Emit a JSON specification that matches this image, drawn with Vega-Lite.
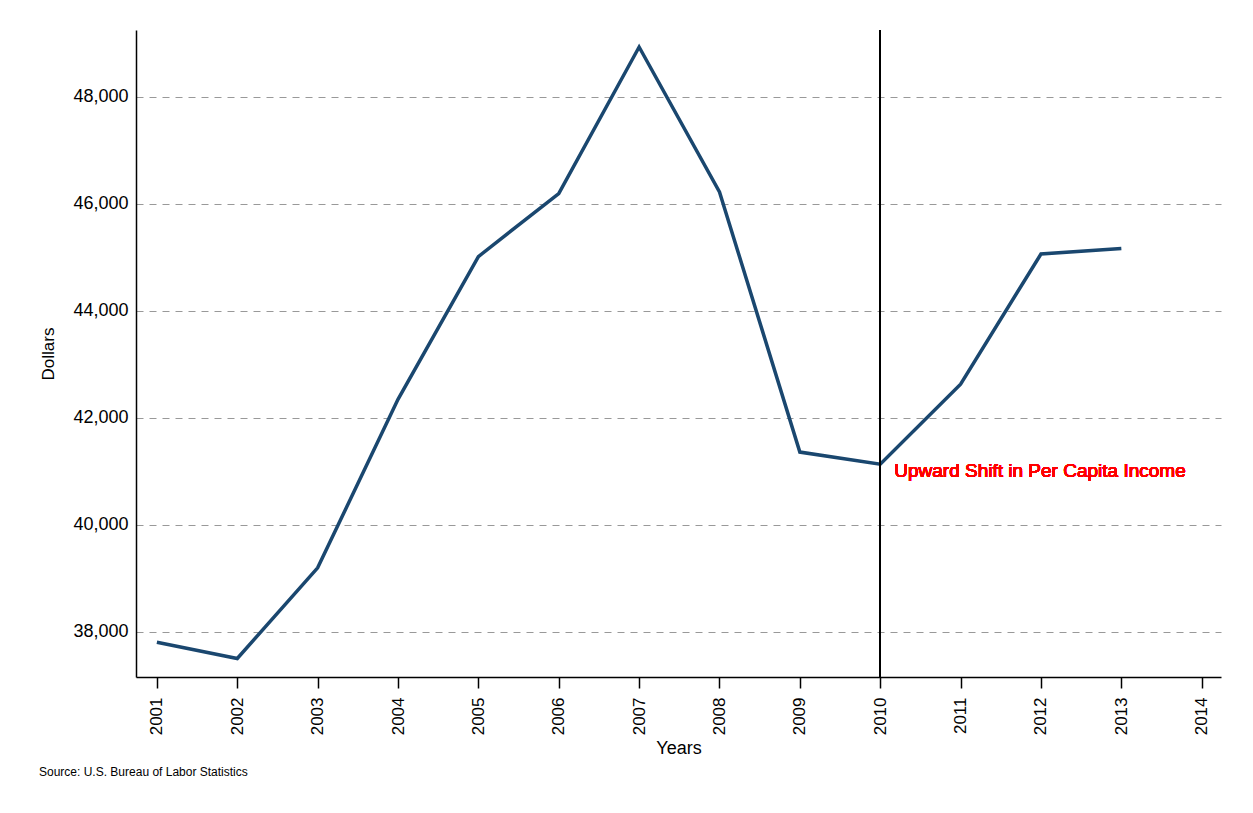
{
  "$schema": "https://vega.github.io/schema/vega-lite/v6.json",
  "width": 1085,
  "height": 647,
  "autosize": {"type": "none"},
  "padding": {"left": 136, "top": 30, "right": 32, "bottom": 136},
  "background": "white",
  "config": {
    "font": "Liberation Sans",
    "view": {"stroke": null},
    "axis": {"labelFont": "Liberation Sans", "titleFont": "Liberation Sans", "labelColor": "black", "titleColor": "black", "titleFontWeight": "normal"}
  },
  "title": {
    "text": "Source: U.S. Bureau of Labor Statistics",
    "orient": "bottom",
    "anchor": "start",
    "frame": "bounds",
    "fontSize": 12,
    "fontWeight": "normal",
    "font": "Liberation Sans",
    "color": "black",
    "offset": 10
  },
  "data": {
    "values": [
      {"year": 2001, "dollars": 37800},
      {"year": 2002, "dollars": 37496},
      {"year": 2003, "dollars": 39190},
      {"year": 2004, "dollars": 42340},
      {"year": 2005, "dollars": 45010},
      {"year": 2006, "dollars": 46187},
      {"year": 2007, "dollars": 48927},
      {"year": 2008, "dollars": 46218},
      {"year": 2009, "dollars": 41355},
      {"year": 2010, "dollars": 41128},
      {"year": 2011, "dollars": 42625},
      {"year": 2012, "dollars": 45058},
      {"year": 2013, "dollars": 45160}
    ]
  },
  "layer": [
    {
      "mark": {"type": "line", "color": "#1a476f", "strokeWidth": 3.5, "strokeJoin": "miter"},
      "encoding": {
        "x": {
          "field": "year",
          "type": "quantitative",
          "scale": {"domain": [2000.74, 2014.24], "nice": false, "zero": false},
          "axis": {
            "title": "Years",
            "values": [2001, 2002, 2003, 2004, 2005, 2006, 2007, 2008, 2009, 2010, 2011, 2012, 2013, 2014],
            "format": "d",
            "labelAngle": 270,
            "labelFontSize": 17,
            "labelPadding": 9,
            "tickSize": 11,
            "tickWidth": 1.5,
            "tickColor": "black",
            "domainColor": "black",
            "domainWidth": 1.5,
            "grid": false,
            "titleFontSize": 18,
            "titleY": 71,
            "titleBaseline": "middle"
          }
        },
        "y": {
          "field": "dollars",
          "type": "quantitative",
          "scale": {"domain": [37150, 49245], "nice": false, "zero": false},
          "axis": {
            "title": "Dollars",
            "values": [38000, 40000, 42000, 44000, 46000, 48000],
            "format": ",d",
            "labelFontSize": 18,
            "labelPadding": 8,
            "ticks": false,
            "tickSize": 0,
            "domainColor": "black",
            "domainWidth": 1.5,
            "grid": true,
            "gridColor": "#999999",
            "gridDash": [7, 6],
            "gridWidth": 1,
            "titleFontSize": 17,
            "titleX": -88,
            "titleBaseline": "middle"
          }
        }
      }
    },
    {
      "mark": {"type": "rule", "color": "black", "strokeWidth": 1.5},
      "encoding": {"x": {"datum": 2010, "type": "quantitative"}}
    },
    {
      "mark": {"type": "text", "fill": "#ff0000", "fontSize": 19, "fontWeight": "normal", "align": "left", "baseline": "middle", "dx": 14, "font": "Liberation Sans"},
      "encoding": {
        "x": {"datum": 2010, "type": "quantitative"},
        "y": {"datum": 41000, "type": "quantitative"},
        "text": {"value": "Upward Shift in Per Capita Income"}
      }
    }
  ]
}
